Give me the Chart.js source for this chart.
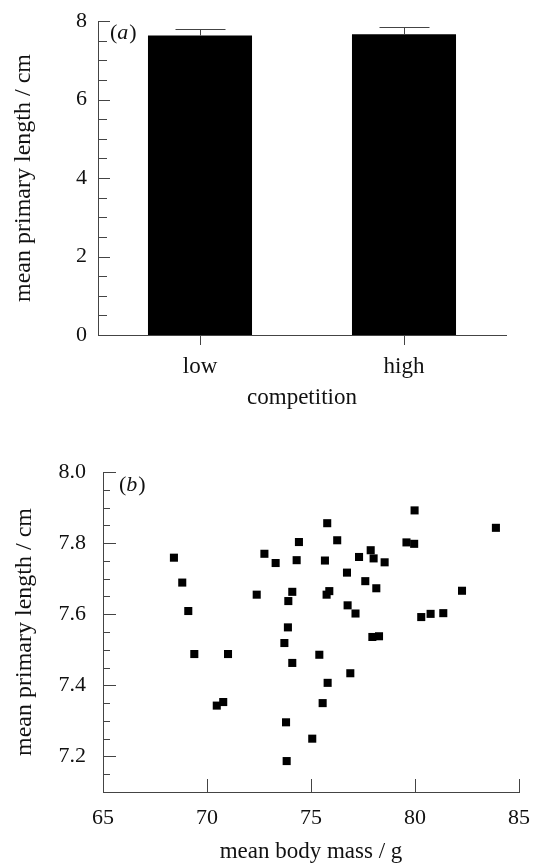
<!DOCTYPE html>
<html>
<head>
<meta charset="utf-8">
<script src="https://cdn.jsdelivr.net/npm/chart.js@4.4.1/dist/chart.umd.min.js"></script>
<style>
  html, body { margin: 0; padding: 0; background: #fff; }
  #wrap { position: relative; width: 533px; height: 866px; }
  canvas { position: absolute; left: 0; }
  #chartA { top: 0; }
  #chartB { top: 420px; }
</style>
</head>
<body>
<div id="wrap">
  <canvas id="chartA" width="533" height="420"></canvas>
  <canvas id="chartB" width="533" height="446"></canvas>
</div>
<script>
// panel (a): mean primary length by competition level
const competition = ['low', 'high'];
const meanPrimary = [7.63, 7.66];
const primaryErr = [0.16, 0.19];
const barTicks = [0, 2, 4, 6, 8];

// panel (b): mean primary length vs mean body mass
const bodyMass = [68.41, 68.81, 69.10, 72.39, 72.76, 73.30, 73.91, 74.10, 73.89, 74.31,
  74.42, 79.98, 83.89, 75.78, 76.26, 79.59, 79.96, 75.67, 77.87, 77.31,
  78.01, 78.54, 76.73, 77.61, 78.14, 75.75, 75.88, 76.76, 77.14, 82.26,
  80.30, 80.75, 81.36, 77.95, 78.27, 73.72, 69.39, 71.01, 75.40, 74.10,
  76.89, 75.80, 70.47, 70.78, 75.56, 73.80, 75.06, 73.83];
const primaryLength = [7.759, 7.689, 7.609, 7.655, 7.770, 7.744, 7.637, 7.663, 7.563, 7.752,
  7.803, 7.892, 7.843, 7.856, 7.808, 7.802, 7.798, 7.751, 7.780, 7.761,
  7.757, 7.746, 7.717, 7.693, 7.673, 7.655, 7.665, 7.625, 7.602, 7.666,
  7.592, 7.601, 7.603, 7.536, 7.538, 7.519, 7.488, 7.488, 7.486, 7.463,
  7.434, 7.407, 7.343, 7.353, 7.350, 7.296, 7.250, 7.187];
const massTicks = [65, 70, 75, 80, 85];
const lengthTicks = [7.2, 7.4, 7.6, 7.8, 8.0];

const serif = '"Liberation Serif", "Times New Roman", serif';
const ink = '#111';
const axisColor = '#444';

// small tick marks drawn inside the plot area, plus the panel letter
const innerTicks = {
  id: 'innerTicks',
  afterDraw(chart, args, opts) {
    const ctx = chart.ctx;
    const area = chart.chartArea;
    ctx.save();
    ctx.strokeStyle = axisColor;
    ctx.lineWidth = 1;
    ['x', 'y'].forEach(function (id) {
      const o = opts[id];
      if (!o) return;
      const s = chart.scales[id];
      const n = Math.round((s.max - s.min) / o.step);
      for (let i = 0; i <= n; i++) {
        const v = s.min + i * o.step;
        const major = o.major.some(m => Math.abs(m - v) < 1e-6);
        const len = major ? o.len : o.minorLen;
        if (!len) continue;
        const p = Math.round(s.getPixelForValue(v)) + 0.5;
        ctx.beginPath();
        if (id === 'y') {
          ctx.moveTo(area.left, p);
          ctx.lineTo(area.left + len, p);
        } else {
          ctx.moveTo(p, area.bottom);
          ctx.lineTo(p, area.bottom - len);
        }
        ctx.stroke();
      }
    });
    // panel letter, e.g. "(a)"
    if (opts.letter) {
      let x = area.left + opts.letterDx;
      const y = area.top + opts.letterDy;
      ctx.fillStyle = ink;
      ctx.textBaseline = 'middle';
      ctx.textAlign = 'left';
      const parts = [['(', ''], [opts.letter, 'italic '], [')', '']];
      parts.forEach(function (pt) {
        ctx.font = pt[1] + '22px ' + serif;
        ctx.fillText(pt[0], x, y);
        x += ctx.measureText(pt[0]).width + (pt[1] ? 1 : 0);
      });
    }
    ctx.restore();
  }
};

// error bars above each bar
const errorBars = {
  id: 'errorBars',
  afterDatasetsDraw(chart) {
    const ctx = chart.ctx;
    const meta = chart.getDatasetMeta(0);
    const y = chart.scales.y;
    ctx.save();
    ctx.strokeStyle = axisColor;
    ctx.lineWidth = 1;
    meta.data.forEach(function (bar, i) {
      const top = Math.round(y.getPixelForValue(meanPrimary[i] + primaryErr[i])) + 0.5;
      const x = Math.round(bar.x) + 0.5;
      ctx.beginPath();
      ctx.moveTo(x, bar.y);
      ctx.lineTo(x, top);
      ctx.moveTo(x - 25, top);
      ctx.lineTo(x + 25, top);
      ctx.stroke();
    });
    ctx.restore();
  }
};

Chart.defaults.font.family = serif;
Chart.defaults.color = ink;

new Chart(document.getElementById('chartA'), {
  type: 'bar',
  data: {
    labels: competition,
    datasets: [{
      data: meanPrimary,
      backgroundColor: '#000',
      borderWidth: 0,
      barPercentage: 0.51,
      categoryPercentage: 1.0
    }]
  },
  options: {
    responsive: false,
    animation: false,
    layout: { padding: { left: 0, right: 27, top: 21, bottom: 8 } },
    plugins: {
      legend: { display: false },
      tooltip: { enabled: false },
      innerTicks: {
        letter: 'a', letterDx: 12, letterDy: 12,
        y: { step: 0.5, major: barTicks, len: 12, minorLen: 9 }
      }
    },
    scales: {
      x: {
        grid: { display: true, drawOnChartArea: false, drawTicks: true, tickLength: 10, offset: false, color: axisColor },
        border: { display: true, color: axisColor, width: 1 },
        ticks: { font: { size: 23 }, padding: 8, color: ink },
        title: { display: true, text: 'competition', font: { size: 23 }, padding: { top: 0, bottom: 0 }, color: ink },
        afterFit(s) { s.height = 77; }
      },
      y: {
        min: 0,
        max: 8,
        grid: { display: false, drawTicks: false },
        border: { display: true, color: axisColor, width: 1 },
        afterBuildTicks(s) { s.ticks = barTicks.map(v => ({ value: v })); },
        ticks: { font: { size: 22 }, padding: 11, color: ink },
        title: { display: true, text: 'mean primary length / cm', font: { size: 24 }, padding: { top: 9, bottom: 0 }, color: ink },
        afterFit(s) { s.width = 98; s.paddingTop = 0; s.paddingBottom = 0; }
      }
    }
  },
  plugins: [errorBars, innerTicks]
});

new Chart(document.getElementById('chartB'), {
  type: 'scatter',
  data: {
    datasets: [{
      data: bodyMass.map((m, i) => ({ x: m, y: primaryLength[i] })),
      pointStyle: 'rect',
      pointRadius: 5.7,
      backgroundColor: '#000',
      borderWidth: 0
    }]
  },
  options: {
    responsive: false,
    animation: false,
    layout: { padding: { left: 0, right: 14, top: 52, bottom: 0 } },
    plugins: {
      legend: { display: false },
      tooltip: { enabled: false },
      innerTicks: {
        letter: 'b', letterDx: 16, letterDy: 13,
        y: { step: 0.05, major: lengthTicks, len: 13, minorLen: 7 },
        x: { step: 5, major: massTicks, len: 13, minorLen: 0 }
      }
    },
    scales: {
      x: {
        type: 'linear',
        min: 65,
        max: 85,
        grid: { display: false, drawTicks: false },
        border: { display: true, color: axisColor, width: 1 },
        afterBuildTicks(s) { s.ticks = massTicks.map(v => ({ value: v })); },
        ticks: { font: { size: 22 }, padding: 13, color: ink },
        title: { display: true, text: 'mean body mass / g', font: { size: 23 }, padding: { top: 0, bottom: 0 }, color: ink },
        afterFit(s) { s.height = 74; s.paddingLeft = 0; s.paddingRight = 0; }
      },
      y: {
        min: 7.1,
        max: 8.0,
        grid: { display: false, drawTicks: false },
        border: { display: true, color: axisColor, width: 1 },
        afterBuildTicks(s) { s.ticks = lengthTicks.map(v => ({ value: v })); },
        ticks: { font: { size: 22 }, padding: 17, color: ink, callback: v => v.toFixed(1) },
        title: { display: true, text: 'mean primary length / cm', font: { size: 24 }, padding: { top: 10, bottom: 0 }, color: ink },
        afterFit(s) { s.width = 103; s.paddingTop = 0; s.paddingBottom = 0; }
      }
    }
  },
  plugins: [innerTicks]
});
</script>
</body>
</html>
